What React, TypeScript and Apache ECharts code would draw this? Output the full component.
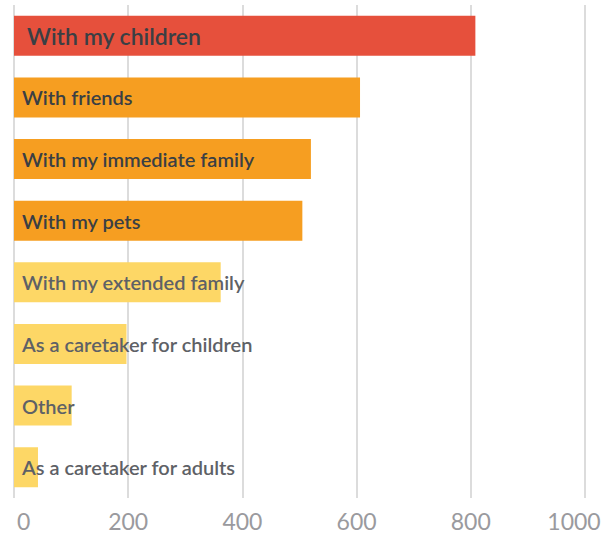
import React, { useEffect, useRef } from "react";
import * as echarts from "echarts";

const categories = [
  "With my children",
  "With friends",
  "With my immediate family",
  "With my pets",
  "With my extended family",
  "As a caretaker for children",
  "Other",
  "As a caretaker for adults",
];
const values = [808, 606, 520, 505, 362, 197, 101, 42];
const barColors = ["#E6503C", "#F69E21", "#F69E21", "#F69E21", "#FDD766", "#FDD766", "#FDD766", "#FDD766"];
const labelColors = ["#3A3F44", "#3A3F44", "#3A3F44", "#3A3F44", "#5E6166", "#5E6166", "#5E6166", "#5E6166"];
const labelOffsets = [13, 8, 8, 8, 8, 8, 8, 8];
const labelSizes = [23, 20, 20, 20, 20, 20, 20, 20];
const xTicks = [0, 200, 400, 600, 800, 1000];

export default function App() {
  const ref = useRef<HTMLDivElement>(null);
  useEffect(() => {
    if (!ref.current) return;
    const chart = echarts.init(ref.current, null, { renderer: "svg" });
    const tickStyle = { color: "#9A9A9E", fontSize: 23, fontFamily: "Lato" };
    chart.setOption({
      animation: false,
      grid: { left: 14, right: 25, top: 5, bottom: 37, containLabel: false },
      xAxis: {
        type: "value",
        min: xTicks[0],
        max: xTicks[xTicks.length - 1],
        interval: 200,
        axisLine: { show: false },
        axisTick: { show: false },
        splitLine: { show: true, lineStyle: { color: "#DCDCDC", width: 2 } },
        axisLabel: {
          ...tickStyle,
          margin: 11,
          alignMinLabel: "left",
          formatter: (v: number) =>
            v === xTicks[0]
              ? `{first|${v}}`
              : v === xTicks[xTicks.length - 1]
              ? `{last|${v}}`
              : String(v),
          rich: {
            first: { ...tickStyle, padding: [0, 0, 0, 3] },
            last: { ...tickStyle, padding: [0, 22, 0, 0] },
          },
        },
      },
      yAxis: {
        type: "category",
        data: categories,
        inverse: true,
        axisLine: { show: false },
        axisTick: { show: false },
        axisLabel: { show: false },
      },
      series: [
        {
          type: "bar",
          barCategoryGap: "35%",
          data: values.map((v, i) => ({
            value: v,
            itemStyle: { color: barColors[i] },
            label: {
              show: true,
              position: "insideLeft",
              distance: labelOffsets[i],
              formatter: categories[i],
              color: labelColors[i],
              fontSize: labelSizes[i],
              fontFamily: "Lato",
              fontWeight: 600,
            },
          })),
        },
      ],
    });
    return () => chart.dispose();
  }, []);
  return (
    <div
      ref={ref}
      style={{ position: "absolute", left: 0, top: 0, width: 610, height: 535 }}
    />
  );
}
